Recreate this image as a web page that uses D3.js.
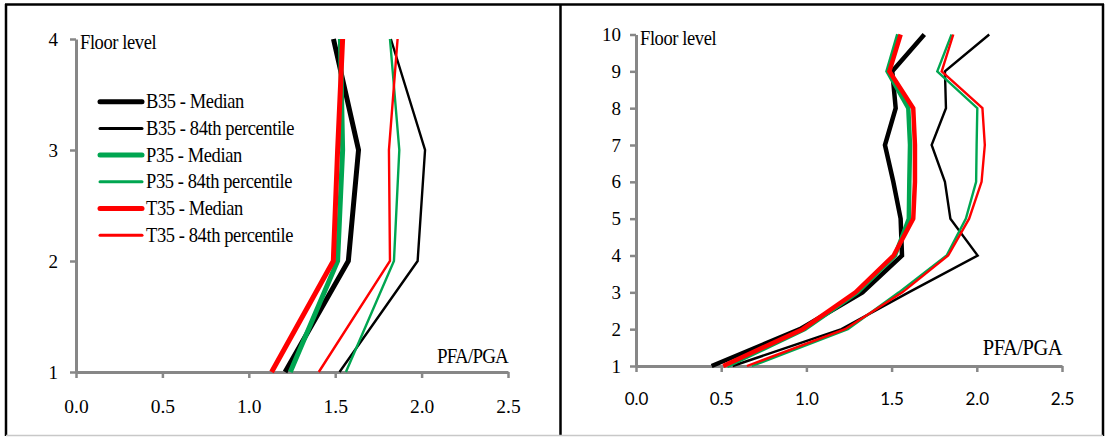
<!DOCTYPE html>
<html>
<head>
    <script src="https://d3js.org/d3.v7.min.js"></script>
<style>
    body { margin: 0; background: #fff; }
    svg { display: block; }
</style>
</head>
<body>

<script>

    // left chart: 4 floors
    var floorsLeft = [1, 2, 3, 4];
    var b35MedLeft = [1.21, 1.576, 1.635, 1.49];
    var b35P84Left = [1.525, 1.977, 2.02, 1.822];
    var p35MedLeft = [1.24, 1.514, 1.543, 1.53];
    var p35P84Left = [1.562, 1.84, 1.871, 1.817];
    var t35MedLeft = [1.132, 1.489, 1.514, 1.543];
    var t35P84Left = [1.405, 1.817, 1.811, 1.861];

    // right chart: 10 floors
    var floorsRight = [1, 2, 3, 4, 5, 6, 7, 8, 9, 10];
    var b35MedRight = [0.444, 0.962, 1.329, 1.561, 1.553, 1.51, 1.461, 1.524, 1.504, 1.692];
    var b35P84Right = [0.567, 1.206, 1.6, 2.005, 1.845, 1.813, 1.735, 1.819, 1.813, 2.073];
    var p35MedRight = [0.534, 0.99, 1.3, 1.52, 1.601, 1.604, 1.608, 1.598, 1.476, 1.539];
    var p35P84Right = [0.68, 1.243, 1.543, 1.823, 1.936, 1.996, 1.999, 2.003, 1.768, 1.852];
    var t35MedRight = [0.512, 0.978, 1.288, 1.512, 1.627, 1.637, 1.637, 1.627, 1.487, 1.553];
    var t35P84Right = [0.651, 1.227, 1.563, 1.832, 1.955, 2.028, 2.047, 2.033, 1.794, 1.862];

    var xTicks = [0, 0.5, 1, 1.5, 2, 2.5];
    var seriesNames = ['B35 - Median', 'B35 - 84th percentile', 'P35 - Median',
                       'P35 - 84th percentile', 'T35 - Median', 'T35 - 84th percentile'];
    var seriesColors = ['#000000', '#000000', '#00a651', '#00a651', '#ff0000', '#ff0000'];
    var axisColor = '#878787';
    var serif = '"Liberation Serif", "Times New Roman", serif';
    var sans = 'Lato, "Open Sans", sans-serif';

    var svg = d3.select('body')
        .append('svg')
        .attr('width', 1105)
        .attr('height', 438);

    svg.append('rect')
        .attr('width', 1105)
        .attr('height', 438)
        .attr('fill', '#fff');

    // frame round both panels
    var frame = svg.append('g');
    frame.append('line').attr('x1', 5).attr('x2', 1104).attr('y1', 4.5).attr('y2', 4.5)
        .attr('stroke', '#000').attr('stroke-width', 2.5);
    frame.append('line').attr('x1', 6).attr('x2', 6).attr('y1', 4).attr('y2', 436)
        .attr('stroke', '#000').attr('stroke-width', 2.5);
    frame.append('line').attr('x1', 560.5).attr('x2', 560.5).attr('y1', 4).attr('y2', 436)
        .attr('stroke', '#000').attr('stroke-width', 2.5);
    frame.append('line').attr('x1', 1103).attr('x2', 1103).attr('y1', 4).attr('y2', 436)
        .attr('stroke', '#000').attr('stroke-width', 2.5);
    frame.append('line').attr('x1', 6).attr('x2', 1103).attr('y1', 435.5).attr('y2', 435.5)
        .attr('stroke', '#c8c8c8').attr('stroke-width', 1.5);

    // text in the picture is a bit taller than wide, stretch it a little
    function stretch(sel, x, y) {
        sel.attr('x', 0).attr('y', 0)
            .attr('transform', 'translate(' + x + ',' + y + ') scale(1,1.12)');
    }

    function drawPanel(opt) {
        var g = svg.append('g');

        var xScale = d3.scaleLinear()
            .domain([0, 2.5])
            .range([opt.left, opt.right]);
        var yScale = d3.scaleLinear()
            .domain([1, opt.floors[opt.floors.length - 1]])
            .range([opt.bottom, opt.top]);

        var xAxis = d3.axisBottom(xScale)
            .tickValues(xTicks)
            .tickFormat(d3.format('.1f'))
            .tickSize(6)
            .tickPadding(21)
            .tickSizeOuter(0);
        var yAxis = d3.axisLeft(yScale)
            .tickValues(opt.floors)
            .tickFormat(d3.format('d'))
            .tickSize(6)
            .tickPadding(opt.yPad)
            .tickSizeOuter(0);

        var gx = g.append('g')
            .attr('transform', 'translate(0,' + opt.bottom + ')')
            .call(xAxis)
            .attr('font-family', opt.xFont)
            .attr('font-size', opt.xSize);
        var gy = g.append('g')
            .attr('transform', 'translate(' + opt.left + ',0)')
            .call(yAxis)
            .attr('font-family', serif)
            .attr('font-size', 19);

        [gx, gy].forEach(function (a) {
            a.select('.domain').attr('stroke', axisColor).attr('stroke-width', 3);
            a.selectAll('.tick line').attr('stroke', axisColor).attr('stroke-width', 2.5);
            a.selectAll('.tick text').attr('fill', '#000');
        });

        var line = d3.line()
            .x(function (d) { return xScale(d.v); })
            .y(function (d) { return yScale(d.f); });

        opt.series.forEach(function (vals, i) {
            var pts = vals.map(function (v, k) { return { v: v, f: opt.floors[k] }; });
            g.append('path')
                .datum(pts)
                .attr('fill', 'none')
                .attr('stroke', seriesColors[i])
                .attr('stroke-width', i % 2 === 0 ? opt.thick : opt.thin)
                .attr('stroke-linejoin', 'miter')
                .attr('d', line);
        });

        g.append('text')
            .attr('font-family', serif)
            .attr('font-size', 18.5)
            .style('letter-spacing', '-0.4px')
            .text('Floor level')
            .call(stretch, opt.left + 4, opt.top + 10);

        g.append('text')
            .attr('font-family', serif)
            .attr('font-size', opt.pfaSize)
            .attr('text-anchor', 'end')
            .style('letter-spacing', opt.pfaSpacing + 'px')
            .text('PFA/PGA')
            .call(stretch, xScale(2.5), opt.bottom - opt.pfaLift);

        return g;
    }

    var leftPanel = drawPanel({
        left: 76, right: 508, top: 39, bottom: 372,
        floors: floorsLeft,
        series: [b35MedLeft, b35P84Left, p35MedLeft, p35P84Left, t35MedLeft, t35P84Left],
        thick: 5, thin: 2.4, yPad: 12,
        xFont: serif, xSize: 19.5,
        pfaSize: 19, pfaSpacing: -0.8, pfaLift: 9
    });

    drawPanel({
        left: 636, right: 1062, top: 34.5, bottom: 366,
        floors: floorsRight,
        series: [b35MedRight, b35P84Right, p35MedRight, p35P84Right, t35MedRight, t35P84Right],
        thick: 4.5, thin: 2.4, yPad: 9,
        xFont: sans, xSize: 17,
        pfaSize: 20.5, pfaSpacing: -0.5, pfaLift: 11
    });

    // legend (left panel only)
    var legend = leftPanel.append('g');
    seriesNames.forEach(function (name, i) {
        var y = 101.7 + i * 26.7;
        legend.append('line')
            .attr('x1', 100).attr('x2', 142)
            .attr('y1', y).attr('y2', y)
            .attr('stroke', seriesColors[i])
            .attr('stroke-width', i % 2 === 0 ? 5 : 3)
            .attr('stroke-linecap', 'round');
        legend.append('text')
            .attr('font-family', serif)
            .attr('font-size', 18.5)
            .style('letter-spacing', '-0.4px')
            .text(name)
            .call(stretch, 146, y + 6.5);
    });

</script>
</body>
</html>
